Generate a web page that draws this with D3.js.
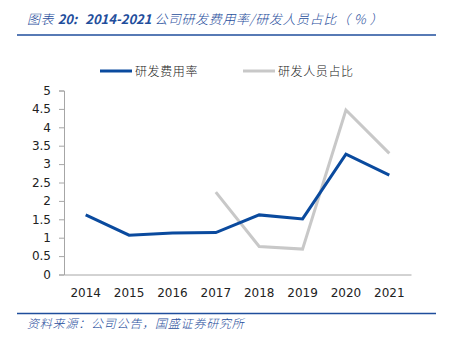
<!DOCTYPE html>
<html>
<head>
<meta charset="utf-8">
<script src="https://cdn.jsdelivr.net/npm/d3@7/dist/d3.min.js"></script>
<style>
  html, body { margin: 0; padding: 0; background: #fff; }
  svg { display: block; }
</style>
</head>
<body>
<svg id="chart" width="453" height="345"></svg>
<script>
// Years on the x axis
const years = ["2014", "2015", "2016", "2017", "2018", "2019", "2020", "2021"];
// R&D expense ratio (%)
const rdExpenseRatio = [1.62, 1.07, 1.13, 1.14, 1.62, 1.51, 3.27, 2.70];
// R&D staff share (%), no data before 2017
const rdStaffShare = [null, null, null, 2.24, 0.76, 0.69, 4.47, 3.29];
// Y axis tick values
const yTicks = [0, 0.5, 1, 1.5, 2, 2.5, 3, 3.5, 4, 4.5, 5];

const seriesNames = ["研发费用率", "研发人员占比"];
const seriesColors = ["#0a4a9e", "#c8c8c8"];

const svg = d3.select("#chart");
const blue = "#1f4e9c";
const tickFont = "Verdana, 'DejaVu Sans', sans-serif";
const cjkFont = "'Noto Sans CJK SC', sans-serif";

// Title: Latin parts bold italic, Chinese parts light italic
const title = svg.append("text")
  .attr("x", 27).attr("y", 24)
  .attr("fill", blue)
  .attr("font-size", 13)
  .attr("font-style", "italic")
  .attr("font-family", cjkFont);
[
  ["图表 ", 300, 0.6, 0],
  ["20:", 700, 0, 0],
  ["2014-2021 ", 700, 0, 8],
  ["公司研发费用率/研发人员占比（ % ）", 300, 0.6, 0]
].forEach(([t, w, ls, dx]) => {
  title.append("tspan")
    .attr("font-weight", w)
    .attr("letter-spacing", ls)
    .attr("dx", dx)
    .text(t);
});

svg.append("line")
  .attr("x1", 17).attr("x2", 436).attr("y1", 35).attr("y2", 35)
  .attr("stroke", blue).attr("stroke-width", 1.6);

// Footer
svg.append("line")
  .attr("x1", 17).attr("x2", 436).attr("y1", 313.5).attr("y2", 313.5)
  .attr("stroke", blue).attr("stroke-width", 1.6);

svg.append("text")
  .attr("x", 27).attr("y", 328)
  .attr("fill", blue)
  .attr("font-size", 12)
  .attr("font-weight", 300)
  .attr("letter-spacing", 0.8)
  .attr("font-style", "italic")
  .attr("font-family", cjkFont)
  .text("资料来源：公司公告，国盛证券研究所");

// Plot area
const plotLeft = 64, plotRight = 411, plotTop = 90.5, plotBottom = 274.5;

const x = d3.scaleBand().domain(years).range([plotLeft, plotRight]);
const y = d3.scaleLinear().domain([0, 5]).range([plotBottom, plotTop]);

// Y axis
const yAxis = svg.append("g")
  .attr("transform", `translate(${plotLeft},0)`)
  .call(d3.axisLeft(y).tickValues(yTicks).tickSize(5).tickPadding(8)
        .tickFormat(d3.format("~g")));
yAxis.select(".domain").attr("stroke", "#a6a6a6");
yAxis.selectAll(".tick line").attr("stroke", "#a6a6a6");
yAxis.selectAll(".tick text")
  .attr("fill", "#222").attr("font-size", 12).attr("font-family", tickFont);

// X axis
const xAxis = svg.append("g")
  .attr("transform", `translate(0,${plotBottom})`)
  .call(d3.axisBottom(x).tickSize(0).tickPadding(14));
xAxis.select(".domain").attr("stroke", "#a6a6a6");
xAxis.selectAll(".tick text")
  .attr("fill", "#222").attr("font-size", 12).attr("font-family", tickFont);

// Lines: staff share first so the expense ratio sits on top
const line = d3.line()
  .defined(d => d.v !== null)
  .x(d => x(d.year) + x.bandwidth() / 2)
  .y(d => y(d.v));

[[rdStaffShare, 1], [rdExpenseRatio, 0]].forEach(([vals, c]) => {
  svg.append("path")
    .datum(years.map((yr, j) => ({ year: yr, v: vals[j] })))
    .attr("fill", "none")
    .attr("stroke", seriesColors[c])
    .attr("stroke-width", 3)
    .attr("stroke-linejoin", "miter")
    .attr("d", line);
});

// Legend
const legendItems = [
  { x: 100, name: seriesNames[0], color: seriesColors[0] },
  { x: 243, name: seriesNames[1], color: seriesColors[1] }
];
legendItems.forEach(it => {
  svg.append("line")
    .attr("x1", it.x).attr("x2", it.x + 32)
    .attr("y1", 71).attr("y2", 71)
    .attr("stroke", it.color).attr("stroke-width", 3);
  svg.append("text")
    .attr("x", it.x + 35).attr("y", 75.5)
    .attr("fill", "#222").attr("font-size", 12)
    .attr("font-weight", 300)
    .attr("letter-spacing", 0.6)
    .attr("font-family", cjkFont)
    .text(it.name);
});
</script>
</body>
</html>
